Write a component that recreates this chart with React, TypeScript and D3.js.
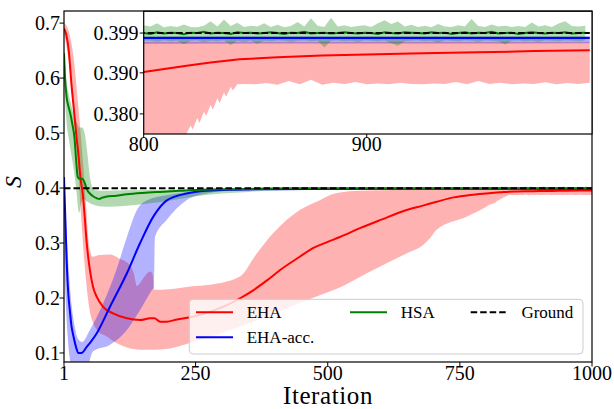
import React from "react";
import * as d3 from "d3";

type P = [number, number];

// ---------- data ----------
const xTicks = [1, 250, 500, 750, 1000];
const yTicks = [0.1, 0.2, 0.3, 0.4, 0.5, 0.6, 0.7];
const insetXTicks = [800, 900];
const insetYTicks: P[] = [[0.380, 0.380], [0.390, 0.390], [0.3997, 0.399]];
const groundValue = 0.3997;

const ehaMean: P[] = [
  [1, 0.69], [5, 0.68], [10, 0.65], [15, 0.59], [20, 0.54], [25, 0.49], [28, 0.464], [32, 0.42],
  [37, 0.385], [40, 0.35], [44, 0.30], [50, 0.251], [56, 0.22], [63, 0.202], [75, 0.184],
  [94, 0.172], [120, 0.163], [145, 0.16], [164, 0.163], [172, 0.163], [183, 0.157], [195, 0.157],
  [215, 0.161], [240, 0.165], [271, 0.173], [309, 0.187], [335, 0.2], [359, 0.214], [385, 0.232],
  [410, 0.251], [447, 0.275], [473, 0.291], [500, 0.302], [523, 0.311], [561, 0.327], [600, 0.342],
  [649, 0.36], [680, 0.368], [706, 0.375], [738, 0.383], [770, 0.3875], [795, 0.3898],
  [800, 0.3902], [810, 0.3910], [820, 0.3918], [830, 0.3925], [843, 0.3933], [860, 0.3938],
  [880, 0.3942], [900, 0.3945], [925, 0.3948], [950, 0.3950], [975, 0.3953], [1000, 0.3955],
];
const ehaUpper: P[] = [
  [1, 0.70], [10, 0.685], [20, 0.63], [28, 0.55], [35, 0.47], [42, 0.38], [48, 0.30], [55, 0.275],
  [68, 0.278], [88, 0.279], [107, 0.271], [120, 0.265], [133, 0.245], [139, 0.222], [151, 0.236],
  [164, 0.248], [168, 0.245], [172, 0.215], [200, 0.216], [240, 0.221], [277, 0.224], [334, 0.239],
  [365, 0.28], [397, 0.318], [447, 0.36], [485, 0.378], [510, 0.389], [550, 0.3945], [600, 0.396],
  [700, 0.3972], [800, 0.3976], [1000, 0.3976],
];
const ehaLower: P[] = [
  [1, 0.68], [10, 0.63], [20, 0.53], [28, 0.43], [34, 0.34], [40, 0.26], [45, 0.21], [50, 0.175],
  [56, 0.155], [65, 0.14], [82, 0.13], [100, 0.118], [120, 0.11], [145, 0.106], [176, 0.106],
  [210, 0.11], [239, 0.118], [290, 0.133], [334, 0.148], [400, 0.172], [460, 0.196], [485, 0.205],
  [525, 0.22], [574, 0.245], [649, 0.281], [680, 0.296], [693, 0.308], [706, 0.324], [763, 0.348],
  [800, 0.366], [805, 0.369], [810, 0.371], [815, 0.373], [819, 0.375], [821, 0.3772],
  [822, 0.3762], [824, 0.3790], [825, 0.3778], [827, 0.3805], [828, 0.3795], [830, 0.3822],
  [831, 0.3810], [833, 0.3838], [834, 0.3826], [836, 0.3852], [837, 0.3842], [839, 0.3866],
  [840, 0.3857], [842, 0.3872], [845, 0.3873],
  [850, 0.3872], [855, 0.3875], [860, 0.3871], [865, 0.3880], [870, 0.3872], [875, 0.3883],
  [880, 0.3871], [885, 0.3876], [890, 0.3873], [895, 0.3878], [900, 0.3872], [905, 0.3874],
  [910, 0.3872], [915, 0.3876], [920, 0.3873], [925, 0.3872], [930, 0.3874], [935, 0.3873],
  [940, 0.3878], [945, 0.3872], [950, 0.3880], [955, 0.3873], [960, 0.3876], [965, 0.3872],
  [970, 0.3874], [975, 0.3873], [980, 0.3877], [985, 0.3872], [990, 0.3875], [995, 0.3873],
  [1000, 0.3876],
];

const accMean: P[] = [
  [1, 0.42], [3, 0.36], [6, 0.269], [9, 0.21], [12, 0.178], [15, 0.15], [19, 0.13], [24, 0.11],
  [28, 0.1], [34, 0.10], [44, 0.111], [63, 0.136], [88, 0.184], [120, 0.245], [145, 0.30],
  [170, 0.348], [195, 0.377], [233, 0.39], [271, 0.395], [320, 0.397], [400, 0.398],
  [600, 0.3985], [1000, 0.3985],
];
const accUpper: P[] = [
  [1, 0.425], [5, 0.34], [10, 0.25], [15, 0.19], [20, 0.155], [28, 0.125], [35, 0.12],
  [50, 0.142], [75, 0.19], [100, 0.251], [120, 0.311], [139, 0.36], [158, 0.378], [195, 0.387],
  [240, 0.393], [300, 0.397], [400, 0.398], [600, 0.399], [1000, 0.399],
];
const accLower: P[] = [
  [1, 0.27], [4, 0.2], [8, 0.13], [12, 0.09], [16, 0.07], [40, 0.06], [56, 0.103], [88, 0.115],
  [120, 0.142], [145, 0.178], [167, 0.214], [171, 0.22], [173, 0.311], [195, 0.342], [233, 0.378],
  [271, 0.39], [320, 0.395], [400, 0.3965], [600, 0.397], [1000, 0.3972],
];

const hsaMeanHead: P[] = [
  [1, 0.645], [3, 0.60], [6, 0.565], [9, 0.55], [13, 0.535], [17, 0.515], [21, 0.49], [24, 0.45],
  [27, 0.42], [30, 0.417], [35, 0.417], [40, 0.41], [44, 0.398], [50, 0.39], [56, 0.385],
  [64, 0.381], [68, 0.380], [72, 0.382], [80, 0.384], [100, 0.386], [120, 0.3885], [150, 0.391],
  [183, 0.393], [220, 0.395], [260, 0.397], [320, 0.398], [400, 0.3992], [500, 0.3995],
  [600, 0.3996], [797, 0.3997],
];
const hsaMeanTail = [
  0.3997, 0.3995, 0.3999, 0.3996, 0.3998, 0.3997, 0.3994, 0.3998, 0.3997, 0.4000, 0.3996, 0.3998,
  0.3997, 0.3995, 0.3999, 0.3997, 0.3998, 0.3996, 0.3997, 0.3999, 0.3997, 0.3995, 0.3998, 0.3997,
  0.4000, 0.3996, 0.3997, 0.3998, 0.3996, 0.3997, 0.3999, 0.3997, 0.3996, 0.3998, 0.3997, 0.3995,
  0.3999, 0.3997, 0.3996, 0.3999, 0.3998, 0.3997, 0.3996, 0.3999, 0.3997, 0.3998, 0.3995, 0.3997,
  0.3999, 0.3996, 0.3998, 0.3997, 0.4000, 0.3996, 0.3997, 0.3998, 0.3995, 0.3997, 0.3999, 0.3997,
  0.3996, 0.3998, 0.3997, 0.3999, 0.3996, 0.3997, 0.3998,
];
const hsaUpperHead: P[] = [
  [1, 0.66], [5, 0.60], [10, 0.57], [15, 0.55], [20, 0.53], [25, 0.52], [30, 0.51], [35, 0.51],
  [40, 0.50], [45, 0.465], [50, 0.42], [55, 0.40], [60, 0.396], [80, 0.395], [120, 0.396],
  [200, 0.397], [300, 0.3985], [400, 0.4005], [600, 0.401], [797, 0.4012],
];
const hsaUpperTail = [
  0.4016, 0.4013, 0.4021, 0.4011, 0.4014, 0.4012, 0.4018, 0.4012, 0.4011, 0.4015, 0.4026, 0.4013,
  0.4030, 0.4014, 0.4022, 0.4012, 0.4015, 0.4013, 0.4021, 0.4012, 0.4017, 0.4011, 0.4014, 0.4024,
  0.4013, 0.4033, 0.4015, 0.4012, 0.4034, 0.4013, 0.4016, 0.4012, 0.4014, 0.4016, 0.4012, 0.4021,
  0.4028, 0.4019, 0.4025, 0.4013, 0.4017, 0.4012, 0.4015, 0.4011, 0.4019, 0.4013, 0.4012, 0.4016,
  0.4013, 0.4031, 0.4014, 0.4012, 0.4018, 0.4013, 0.4015, 0.4012, 0.4014, 0.4012, 0.4023, 0.4013,
  0.4016, 0.4012, 0.4020, 0.4026, 0.4014, 0.4013, 0.4015,
];
const hsaLowerHead: P[] = [
  [1, 0.62], [5, 0.53], [10, 0.49], [15, 0.46], [20, 0.43], [25, 0.39], [28, 0.36], [30, 0.355],
  [33, 0.37], [38, 0.38], [45, 0.375], [55, 0.37], [80, 0.366], [120, 0.368], [160, 0.372],
  [200, 0.377], [250, 0.385], [300, 0.39], [350, 0.393], [400, 0.396], [500, 0.397], [797, 0.3978],
];
const hsaLowerTail = [
  0.3979, 0.3978, 0.3976, 0.3979, 0.3977, 0.3978, 0.3970, 0.3978, 0.3979, 0.3975, 0.3978, 0.3977,
  0.3979, 0.3968, 0.3978, 0.3976, 0.3979, 0.3971, 0.3978, 0.3977, 0.3979, 0.3978, 0.3976, 0.3978,
  0.3979, 0.3977, 0.3978, 0.3962, 0.3978, 0.3979, 0.3977, 0.3978, 0.3976, 0.3979, 0.3978, 0.3977,
  0.3979, 0.3972, 0.3966, 0.3977, 0.3978, 0.3979, 0.3977, 0.3978, 0.3974, 0.3979, 0.3978, 0.3977,
  0.3979, 0.3978, 0.3976, 0.3979, 0.3978, 0.3977, 0.3969, 0.3978, 0.3979, 0.3977, 0.3978, 0.3976,
  0.3979, 0.3978, 0.3977, 0.3979, 0.3978, 0.3977, 0.3979,
];

const tailIters = d3.range(800, 1001, 3);
const withTail = (head: P[], tail: number[]): P[] =>
  head.concat(tail.map((v, i) => [tailIters[i], v] as P));

const hsaMean = withTail(hsaMeanHead, hsaMeanTail);
const hsaUpper = withTail(hsaUpperHead, hsaUpperTail);
const hsaLower = withTail(hsaLowerHead, hsaLowerTail);
const ground: P[] = [[1, groundValue], [1000, groundValue]];

const series = [
  { name: "EHA", color: "#ff0000", mean: ehaMean, up: ehaUpper, lo: ehaLower },
  { name: "EHA-acc.", color: "#0000ff", mean: accMean, up: accUpper, lo: accLower },
  { name: "HSA", color: "#008000", mean: hsaMean, up: hsaUpper, lo: hsaLower },
];

// ---------- layout ----------
const W = 614, H = 409;
const FONT = "Liberation Serif";

const xMain = d3.scaleLinear().domain([1, 1000]).range([64, 592]);
const yMain = d3.scaleLinear().domain([0.0836, 0.722]).range([362, 11]);
const xIn = d3.scaleLinear().domain([800, 1001]).range([143.7, 592]);
const yIn = d3.scaleLinear().domain([0.3751, 0.405]).range([134, 11.3]);

function bandPath(up: P[], lo: P[], xs: any, ys: any, smooth: boolean) {
  const g = d3.line<P>().x(d => xs(d[0])).y(d => ys(d[1])).curve(smooth ? d3.curveMonotoneX : d3.curveLinear);
  const a = g(up) as string;
  const b = g([...lo].reverse()) as string;
  return a + "L" + b.slice(1) + "Z";
}
function linePath(pts: P[], xs: any, ys: any, smooth: boolean) {
  return d3.line<P>().x(d => xs(d[0])).y(d => ys(d[1])).curve(smooth ? d3.curveMonotoneX : d3.curveLinear)(pts) as string;
}

function Plot({ xs, ys, clip, smooth }: { xs: any; ys: any; clip: string; smooth: boolean }) {
  return (
    <g clipPath={`url(#${clip})`}>
      {series.map(s => (
        <path key={s.name + "b"} d={bandPath(s.up, s.lo, xs, ys, smooth)} fill={s.color} fillOpacity={0.3} stroke="none" />
      ))}
      {series.map(s => (
        <path key={s.name + "l"} d={linePath(s.mean, xs, ys, smooth)} fill="none" stroke={s.color} strokeWidth={2} />
      ))}
      <path d={linePath(ground, xs, ys, false)} fill="none" stroke="#000" strokeWidth={2} strokeDasharray="6.5,3" />
    </g>
  );
}

export default function App() {
  const [x0, x1] = xMain.range();
  const [yb, yt] = yMain.range();
  const [ix0, ix1] = xIn.range();
  const [iyb, iyt] = yIn.range();
  const legendRows = [
    { name: "EHA", color: "#ff0000", dash: "", x: 196, y: 312.3 },
    { name: "EHA-acc.", color: "#0000ff", dash: "", x: 196, y: 337.3 },
    { name: "HSA", color: "#008000", dash: "", x: 350, y: 312.3 },
    { name: "Ground", color: "#000", dash: "6.5,3", x: 470.7, y: 312.3 },
  ];
  return (
    <svg width={W} height={H} fontFamily={FONT} style={{ position: "absolute", left: 0, top: 0, background: "#fff" }}>
      <defs>
        <clipPath id="clipMain"><rect x={x0} y={yt} width={x1 - x0} height={yb - yt} /></clipPath>
        <clipPath id="clipIn"><rect x={ix0} y={iyt} width={ix1 - ix0} height={iyb - iyt} /></clipPath>
      </defs>
      <rect x={0} y={0} width={W} height={H} fill="#fff" />

      {/* main plot */}
      <Plot xs={xMain} ys={yMain} clip="clipMain" smooth={true} />
      <rect x={x0} y={yt} width={x1 - x0} height={yb - yt} fill="none" stroke="#000" strokeWidth={1.2} />
      {xTicks.map(t => (
        <g key={"xt" + t}>
          <line x1={xMain(t)} x2={xMain(t)} y1={yb} y2={yb + 4.5} stroke="#000" strokeWidth={1} />
          <text x={xMain(t)} y={380} fontSize={20} textAnchor="middle" fontFamily={FONT}>{t}</text>
        </g>
      ))}
      {yTicks.map(t => (
        <g key={"yt" + t}>
          <line x1={x0 - 4.5} x2={x0} y1={yMain(t)} y2={yMain(t)} stroke="#000" strokeWidth={1} />
          <text x={60} y={yMain(t)} dy="0.34em" fontSize={20} textAnchor="end" fontFamily={FONT}>{d3.format(".1f")(t)}</text>
        </g>
      ))}
      <text x={(x0 + x1) / 2} y={404} fontSize={25} letterSpacing={0.6} textAnchor="middle" fontFamily={FONT}>Iteration</text>
      <text transform="translate(21,182) rotate(-90)" fontSize={24} fontStyle="italic" textAnchor="middle" fontFamily={FONT}>S</text>

      {/* legend */}
      <rect x={189.3} y={299.3} width={393.7} height={54.7} rx={4} fill="#fff" fillOpacity={0.8} stroke="#cccccc" strokeWidth={1} />
      {legendRows.map(r => (
        <g key={r.name}>
          <line x1={r.x} x2={r.x + 37} y1={r.y} y2={r.y} stroke={r.color} strokeWidth={2} strokeDasharray={r.dash || undefined} />
          <text x={r.x + 50.7} y={r.y} dy="0.34em" fontSize={17} fontFamily={FONT}>{r.name}</text>
        </g>
      ))}

      {/* inset */}
      <rect x={ix0} y={iyt} width={ix1 - ix0} height={iyb - iyt} fill="#fff" />
      <Plot xs={xIn} ys={yIn} clip="clipIn" smooth={false} />
      <rect x={ix0} y={iyt} width={ix1 - ix0} height={iyb - iyt} fill="none" stroke="#000" strokeWidth={1.2} />
      {insetXTicks.map(t => (
        <g key={"ixt" + t}>
          <line x1={xIn(t)} x2={xIn(t)} y1={iyb} y2={iyb + 4} stroke="#000" strokeWidth={1} />
          <text x={xIn(t)} y={151} fontSize={20} textAnchor="middle" fontFamily={FONT}>{t}</text>
        </g>
      ))}
      {insetYTicks.map(([v, lab]) => (
        <g key={"iyt" + v}>
          <line x1={ix0 - 4} x2={ix0} y1={yIn(v)} y2={yIn(v)} stroke="#000" strokeWidth={1} />
          <text x={138.5} y={yIn(v)} dy="0.34em" fontSize={20} textAnchor="end" fontFamily={FONT}>{d3.format(".3f")(lab)}</text>
        </g>
      ))}
    </svg>
  );
}
